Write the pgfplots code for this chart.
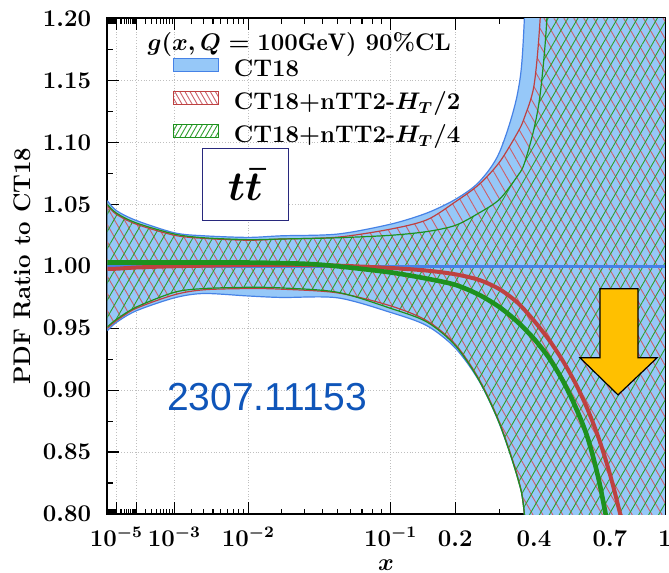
\documentclass[border=0pt]{standalone}
\usepackage{fontspec}
\usepackage{pgfplots}
\pgfplotsset{compat=1.18}
\usepackage{pgfplotstable}
\usepgfplotslibrary{fillbetween}
\usetikzlibrary{patterns.meta}
\newfontfamily\arialfont{Liberation Sans}

\definecolor{ctfill}{RGB}{150,200,248}
\definecolor{ctline}{RGB}{70,130,230}
\definecolor{ntred}{RGB}{190,65,65}
\definecolor{nthred}{RGB}{205,95,105}
\definecolor{ntgreen}{RGB}{30,145,30}
\definecolor{nthgreen}{RGB}{45,160,45}
\definecolor{arxblue}{RGB}{15,85,185}
\definecolor{boxnavy}{RGB}{40,40,125}
\definecolor{arrowor}{RGB}{255,192,0}

% band edges: bu/bl CT18, ru/rl CT18+nTT2-HT/2, gu/gl CT18+nTT2-HT/4
\pgfplotstableread{
x      bu     bl     ru     rl     gu     gl
1.5e-6 1.053  0.948  1.049  0.950  1.050  0.951
1e-5   1.045  0.9546 1.042  0.956  1.043  0.957
1e-4   1.037  0.964  1.034  0.966  1.035  0.967
1e-3   1.027  0.9745 1.025  0.977  1.026  0.979
3e-3   1.0246 0.978  1.0225 0.981  1.023  0.982
1e-2   1.0233 0.976  1.021  0.982  1.0215 0.983
2e-2   1.0246 0.9748 1.022  0.9815 1.022  0.9825
5e-2   1.026  0.9745 1.0235 0.9785 1.023  0.979
0.1    1.034  0.9627 1.030  0.968  1.025  0.966
0.15   1.043  0.952  1.0375 0.956  1.028  0.955
0.2    1.054  0.934  1.052  0.937  1.033  0.936
0.25   1.068  0.9075 1.066  0.909  1.043  0.908
0.3    1.092  0.8727 1.084  0.874  1.054  0.873
0.35   1.14   0.829  1.108  0.830  1.073  0.829
0.37   1.20   0.800  1.120  0.800  1.083  0.800
0.4    1.42   0.70   1.146  0.70   1.111  0.70
0.42   1.6    0.62   1.20   0.62   1.139  0.62
0.44   1.8    0.57   1.30   0.57   1.19   0.57
0.46   1.9    0.52   1.40   0.52   1.28   0.52
0.5    2.0    0.45   1.6    0.45   1.5    0.45
0.55   2.0    0.40   2.0    0.40   2.0    0.40
0.7    2.0    0.40   2.0    0.40   2.0    0.40
1.0    2.0    0.40   2.0    0.40   2.0    0.40
}\banddata

% central values: rc HT/2, gc HT/4, bc CT18
\pgfplotstableread{
x      rc     gc     bc
1.5e-6 0.998  1.003  1
1e-5   0.998  1.003  1
1e-4   0.999  1.003  1
1e-3   1.000  1.003  1
1e-2   1.001  1.003  1
3e-2   1.001  1.002  1
0.05   1.0005 1.000  1
0.1    0.9986 0.995  1
0.15   0.9965 0.990  1
0.2    0.9935 0.985  1
0.25   0.989  0.977  1
0.3    0.9815 0.967  1
0.35   0.9705 0.955  1
0.4    0.956  0.9414 1
0.45   0.9405 0.926  1
0.5    0.9236 0.9075 1
0.55   0.905  0.886  1
0.6    0.884  0.861  1
0.65   0.860  0.826  1
0.7    0.832  0.780  1
0.75   0.800  0.725  1
0.8    0.765  0.670  1
0.85   0.725  0.615  1
0.9    0.680  0.560  1
0.95   0.630  0.500  1
1.0    0.580  0.450  1
}\centraldata

\begin{document}
\begin{tikzpicture}
\begin{axis}[
  name=ax,
  scale only axis,
  width=278.9pt, height=247.8pt,
  xmin=0.0218, xmax=1, ymin=0.8, ymax=1.2,
  xtick={0.037584,0.072444,0.139637,0.269153,0.518800,0.632110,0.770170,0.903350,1},
  xticklabels={$10^{-5}$,{},$10^{-3}$,$10^{-2}$,$10^{-1}$,$0.2$,$0.4$,$0.7$,$1$},
  minor xtick={0.023756,0.026666,0.028945,0.030846,0.032490,0.033951,0.035267,0.036471,
    0.045792,0.051402,0.055793,0.059458,0.062627,0.065443,0.067980,0.070302,
    0.088266,0.099078,0.107543,0.114607,0.120717,0.126143,0.131034,0.135509,
    0.170134,0.190977,0.207292,0.220906,0.232684,0.243144,0.252570,0.261196,
    0.327936,0.368094,0.399550,0.425800,0.448493,0.468658,0.486827,0.503455,
    0.709540,0.820740,0.864500,0.938390,0.970430},
  ytick={0.80,0.85,0.90,0.95,1.00,1.05,1.10,1.15,1.20},
  minor ytick={0.825,0.875,0.925,0.975,1.025,1.075,1.125,1.175},
  yticklabel style={xshift=-4.6pt, /pgf/number format/.cd, fixed, fixed zerofill, precision=2},
  xticklabel style={text height=10pt, yshift=-2.7pt},
  tick label style={font=\fontsize{11.5}{13.8}\selectfont\bfseries\boldmath},
  grid=major,
  major grid style={densely dotted, black!25, line width=0.4pt},
  axis line style={line width=1pt},
  major tick length=6pt, minor tick length=2.7pt,
  every tick/.style={black, line width=0.6pt},
  xlabel={$x$}, ylabel={PDF Ratio to CT18},
  label style={font=\fontsize{12}{14}\selectfont\bfseries\boldmath},
  xlabel style={at={(axis description cs:0.5,-0.1029)}, anchor=center},
  ylabel style={at={(axis description cs:-0.1529,0.5)}, anchor=center},
  legend style={at={(axis description cs:0.1165,0.9213)}, anchor=north west,
    draw=none, fill=none, inner sep=0pt, row sep=3.9pt, column sep=7.5pt,
    font=\fontsize{12}{14}\selectfont\bfseries\boldmath,
    nodes={inner sep=0pt, text height=8.5pt, text depth=3pt},
    cells={anchor=west}},
]
% boundary paths
\addplot[draw=none, forget plot, smooth, name path=bu] table[x expr=\thisrow{x}^0.285, y=bu]{\banddata};
\addplot[draw=none, forget plot, smooth, name path=bl] table[x expr=\thisrow{x}^0.285, y=bl]{\banddata};
\addplot[draw=none, forget plot, smooth, name path=ru] table[x expr=\thisrow{x}^0.285, y=ru]{\banddata};
\addplot[draw=none, forget plot, smooth, name path=rl] table[x expr=\thisrow{x}^0.285, y=rl]{\banddata};
\addplot[draw=none, forget plot, smooth, name path=gu] table[x expr=\thisrow{x}^0.285, y=gu]{\banddata};
\addplot[draw=none, forget plot, smooth, name path=gl] table[x expr=\thisrow{x}^0.285, y=gl]{\banddata};
% bands
\addplot[fill=ctfill, draw=none,
  legend image code/.code={\draw[fill=ctfill, draw=ctline, line width=0.6pt] (0pt,0pt) rectangle (22.5pt,6.5pt);}]
  fill between[of=bu and bl];
\addlegendentry{CT18}
\addplot[pattern={Lines[angle=-60,distance=4.3pt,line width=0.45pt]}, pattern color=nthred, draw=none,
  legend image code/.code={\draw[pattern={Lines[angle=-60,distance=2.2pt,line width=0.45pt]}, pattern color=nthred, draw=ntred, line width=0.6pt] (0pt,0pt) rectangle (22.5pt,6.5pt);}]
  fill between[of=ru and rl];
\addlegendentry{CT18+nTT2-$H_T/2$}
\addplot[pattern={Lines[angle=60,distance=4.3pt,line width=0.45pt]}, pattern color=nthgreen, draw=none,
  legend image code/.code={\draw[pattern={Lines[angle=60,distance=2.2pt,line width=0.45pt]}, pattern color=nthgreen, draw=ntgreen, line width=0.6pt] (0pt,0pt) rectangle (22.5pt,6.5pt);}]
  fill between[of=gu and gl];
\addlegendentry{CT18+nTT2-$H_T/4$}
% band edges
\addplot[ctline, line width=0.6pt, smooth, forget plot] table[x expr=\thisrow{x}^0.285, y=bu]{\banddata};
\addplot[ctline, line width=0.6pt, smooth, forget plot] table[x expr=\thisrow{x}^0.285, y=bl]{\banddata};
\addplot[ntred, line width=0.6pt, smooth, forget plot] table[x expr=\thisrow{x}^0.285, y=ru]{\banddata};
\addplot[ntred, line width=0.6pt, smooth, forget plot] table[x expr=\thisrow{x}^0.285, y=rl]{\banddata};
\addplot[ntgreen, line width=0.6pt, smooth, forget plot] table[x expr=\thisrow{x}^0.285, y=gu]{\banddata};
\addplot[ntgreen, line width=0.6pt, smooth, forget plot] table[x expr=\thisrow{x}^0.285, y=gl]{\banddata};
% central values
\addplot[ctline, line width=1.6pt, forget plot] table[x expr=\thisrow{x}^0.285, y=bc]{\centraldata};
\addplot[ntred, line width=2pt, smooth, forget plot] table[x expr=\thisrow{x}^0.285, y=rc]{\centraldata};
\addplot[ntgreen, line width=2.3pt, smooth, forget plot] table[x expr=\thisrow{x}^0.285, y=gc]{\centraldata};
% annotations
\node[anchor=base west, inner sep=0pt, font=\fontsize{12}{14}\selectfont\bfseries\boldmath]
  at (rel axis cs:0.0717,0.9347) {$g(x,Q=100\mathrm{GeV})$ 90\%CL};
\node[draw=boxnavy, line width=0.7pt, fill=white, minimum width=43pt, minimum height=36pt, inner sep=0pt,
  font=\fontsize{22}{26}\selectfont\boldmath] at (rel axis cs:0.2473,0.6646) {$t\bar{t}$};
\node[font=\arialfont\fontsize{19.5}{22}\selectfont, text=arxblue] at (rel axis cs:0.2867,0.2364) {2307.11153};
\filldraw[fill=arrowor, draw=black, line width=0.6pt, line join=miter]
  (rel axis cs:0.8835,0.4545) -- (rel axis cs:0.9516,0.4545) -- (rel axis cs:0.9516,0.3152)
  -- (rel axis cs:0.9857,0.3152) -- (rel axis cs:0.9158,0.2404) -- (rel axis cs:0.8477,0.3152)
  -- (rel axis cs:0.8835,0.3152) -- cycle;
\end{axis}
\pgfresetboundingbox
\path ([xshift=-53.65pt,yshift=-29pt]ax.south west) rectangle ([xshift=2pt,yshift=9.25pt]ax.north east);
\end{tikzpicture}
\end{document}
